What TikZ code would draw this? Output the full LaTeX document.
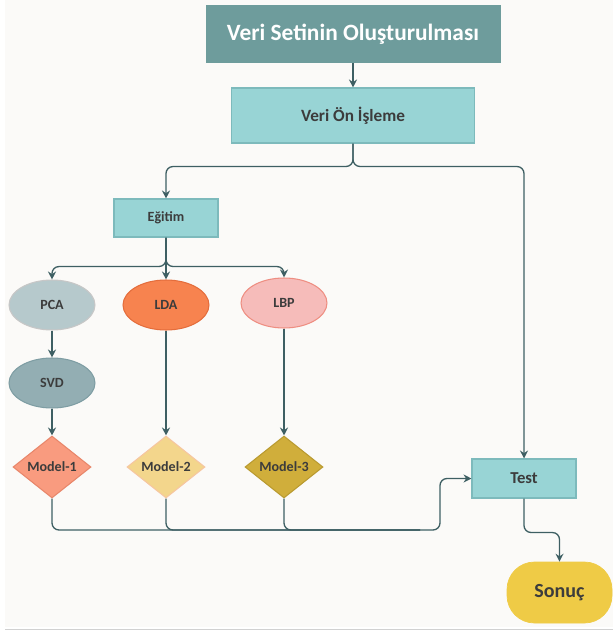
\documentclass[tikz,border=0pt]{standalone}
\usepackage{fontspec}
\setmainfont{Carlito}
\usetikzlibrary{shapes.geometric,arrows.meta}
\definecolor{linec}{HTML}{3E5F63}
\definecolor{titlec}{HTML}{6E9C9C}
\definecolor{tealc}{HTML}{98D4D5}
\definecolor{tealb}{HTML}{7DBABC}
\definecolor{textc}{HTML}{3C3C3C}
\definecolor{bgc}{HTML}{FBFAF8}
\tikzset{
  font={\bfseries\fontsize{8pt}{10}\selectfont},
  box/.style={draw=tealb,fill=tealc,text=textc,line width=0.6pt,inner sep=0pt},
  oval/.style={ellipse,line width=0.6pt,text=textc,minimum width=1.72cm,minimum height=1cm,inner sep=0pt},
  dmd/.style={diamond,line width=0.6pt,text=textc,aspect=1.26,minimum width=1.56cm,minimum height=1.24cm,inner sep=0pt},
  conn/.style={draw=linec,line width=0.75pt,rounded corners=4pt},
  arr/.style={conn,-{Stealth[length=4.5pt,width=4.5pt]}}}
\begin{document}
\begin{tikzpicture}[x=0.02cm,y=-0.02cm]
\useasboundingbox (0,0) rectangle (613,631);
\fill [bgc] (5,0) rectangle (613,627);
\draw [black!18,line width=1pt] (5,629.5) -- (613,629.5);
\node [box,draw=titlec,fill=titlec,text=white,minimum width=5.88cm,minimum height=1.12cm,font={\bfseries\fontsize{13.3pt}{16}\selectfont}] (title) at (353,34) {Veri Setinin Oluşturulması};
\node [box,minimum width=4.86cm,minimum height=1.1cm,font={\bfseries\fontsize{9.8pt}{12}\selectfont}] (prep) at (353,115.5) {Veri Ön İşleme};
\node [box,minimum width=2.08cm,minimum height=0.76cm] (egitim) at (166,218) {Eğitim};
\node [oval,draw=black!10!gray!40,fill={rgb,255:red,182;green,201;blue,204}] (pca) at (52,305) {PCA};
\node [oval,draw={rgb,255:red,228;green,109;blue,60},fill={rgb,255:red,247;green,131;blue,79}] (lda) at (166,305) {LDA};
\node [oval,draw={rgb,255:red,238;green,142;blue,130},fill={rgb,255:red,246;green,188;blue,186}] (lbp) at (284,303) {LBP};
\node [oval,draw={rgb,255:red,126;green,157;blue,163},fill={rgb,255:red,147;green,174;blue,179}] (svd) at (52,383) {SVD};
\node [dmd,draw={rgb,255:red,232;green,134;blue,106},fill={rgb,255:red,249;green,155;blue,127}] (m1) at (52,467) {Model-1};
\node [dmd,draw={rgb,255:red,246;green,198;blue,160},fill={rgb,255:red,243;green,214;blue,140}] (m2) at (166,467) {Model-2};
\node [dmd,draw={rgb,255:red,185;green,154;blue,48},fill={rgb,255:red,208;green,174;blue,59}] (m3) at (284,467) {Model-3};
\node [box,minimum width=2.08cm,minimum height=0.78cm,font={\bfseries\fontsize{9.5pt}{11}\selectfont}] (test) at (524,478.5) {Test};
\node [draw={rgb,255:red,239;green,203;blue,70},fill={rgb,255:red,239;green,203;blue,70},text=textc,rounded corners=0.55cm,minimum width=2.1cm,minimum height=1.22cm,font={\bfseries\fontsize{11.4pt}{13}\selectfont}] (sonuc) at (559.5,592.5) {Sonuç};
\coordinate (bus) at (440,530);
\coordinate (busend) at (420,530);
\draw [arr] (title) -- (prep);
\draw [arr] (prep.south) -- ++(0,23) -| (egitim.north);
\draw [arr] (prep.south) -- ++(0,23) -| (test.north);
\draw [arr] (egitim.south) -- ++(0,29) -| (pca.north);
\draw [arr] (egitim.south) -- (lda.north);
\draw [arr] (egitim.south) -- ++(0,29) -| (lbp.north);
\draw [arr] (pca) -- (svd);
\draw [arr] (svd) -- (m1);
\draw [arr] (lda) -- (m2);
\draw [arr] (lbp.south) -- (m3.north);
\draw [arr] (m1.south) |- (bus) |- (test.west);
\draw [conn] (m2.south) |- (busend);
\draw [conn] (m3.south) |- (busend);
\draw [arr] (test.south) -- ++(0,34) -| (sonuc.north);
\end{tikzpicture}
\end{document}
